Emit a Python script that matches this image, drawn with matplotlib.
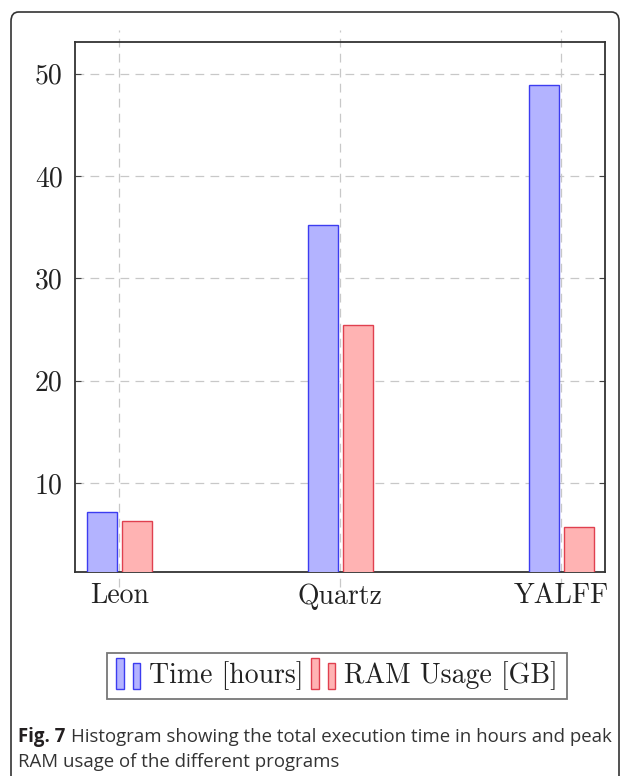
import numpy as np
import matplotlib.pyplot as plt
from matplotlib.patches import Rectangle, FancyBboxPatch
from matplotlib.legend_handler import HandlerBase

plt.rcParams['font.family'] = 'cmr10'
plt.rcParams['axes.formatter.use_mathtext'] = True

# data
programs = ["Leon", "Quartz", "YALFF"]
time_hours = [7.2, 35.2, 48.9]
ram_gb = [6.3, 25.4, 5.7]
series_labels = ["Time [hours]", "RAM Usage [GB]"]
y_ticks = [10, 20, 30, 40, 50]

blue_fill, blue_edge = "#b3b3ff", "#3c3cf0"
red_fill, red_edge = "#ffb3b3", "#e0404f"
FS = 20


class TwoBarHandler(HandlerBase):
    # pgfplots-style legend image: two small bars, bottoms aligned
    def create_artists(self, legend, orig, xd, yd, w, h, fs, trans):
        fc, ec = orig.get_facecolor(), orig.get_edgecolor()
        bw = w * 0.3
        y0 = yd - h * 0.3
        r1 = Rectangle((xd, y0), bw, h * 1.6, facecolor=fc, edgecolor=ec, lw=1, transform=trans)
        r2 = Rectangle((xd + w * 0.66, y0), bw, h * 1.35, facecolor=fc, edgecolor=ec, lw=1, transform=trans)
        return [r1, r2]


fig = plt.figure(figsize=(6.29, 7.76), dpi=100)
ax = fig.add_axes([75 / 629, 1 - 572 / 776, 530 / 629, 530 / 776])

x = np.arange(len(programs))
w = 0.135
b1 = ax.bar(x - 0.077, time_hours, w, color=blue_fill, edgecolor=blue_edge, lw=1, zorder=3)
b2 = ax.bar(x + 0.081, ram_gb, w, color=red_fill, edgecolor=red_edge, lw=1, zorder=3)

ax.set_xlim(-0.2, 2.2)
ax.set_ylim(1.3, 53.1)
ax.set_xticks(x)
ax.set_xticklabels(programs, fontsize=FS, color="#222222")
ax.set_yticks(y_ticks)
ax.set_yticklabels([str(v) for v in y_ticks], fontsize=FS, color="#222222")
ax.tick_params(axis='y', direction='in', length=4, right=True, color="#444444", pad=9)
ax.tick_params(axis='x', length=0, pad=8)

grid_kw = dict(color="#c8c8c8", lw=0.9, dashes=(7, 5), zorder=1)
for yv in y_ticks:
    ax.axhline(yv, **grid_kw)
# vertical grid lines reach a little past the frame, as in pgfplots
for xv in x:
    ax.plot([xv, xv], [-0.028, 1.022], transform=ax.get_xaxis_transform(), clip_on=False, **grid_kw)

for s in ax.spines.values():
    s.set_linewidth(1.3)
    s.set_color("#333333")

leg = fig.legend([b1.patches[0], b2.patches[0]], series_labels, loc='center',
                 bbox_to_anchor=(337 / 629, 1 - 676 / 776), ncol=2, fontsize=FS,
                 handler_map={Rectangle: TwoBarHandler()}, handlelength=0.9, handletextpad=0.28,
                 columnspacing=0.28, borderpad=0.32, fancybox=False, frameon=True)
leg.get_frame().set_edgecolor("#555555")
leg.get_frame().set_linewidth(1.3)
for t in leg.get_texts():
    t.set_color("#222222")

# outer rounded panel
fig.patches.append(FancyBboxPatch((11 / 629, -0.05), 608 / 629, 1 - 12 / 776 + 0.05,
                                  boxstyle="round,pad=0,rounding_size=0.012", transform=fig.transFigure,
                                  facecolor="none", edgecolor="#333333", lw=1.2))

fig.text(18 / 629, 1 - 737 / 776, "Fig. 7", fontsize=13.4, family="Open Sans", weight="bold",
         va="center", color="#231f20")
fig.text(71 / 629, 1 - 737 / 776, "Histogram showing the total execution time in hours and peak",
         fontsize=13.4, family="Open Sans", va="center", color="#333333")
fig.text(18 / 629, 1 - 762 / 776, "RAM usage of the different programs",
         fontsize=13.4, family="Open Sans", va="center", color="#333333")

fig.savefig("out.png", dpi=100)
